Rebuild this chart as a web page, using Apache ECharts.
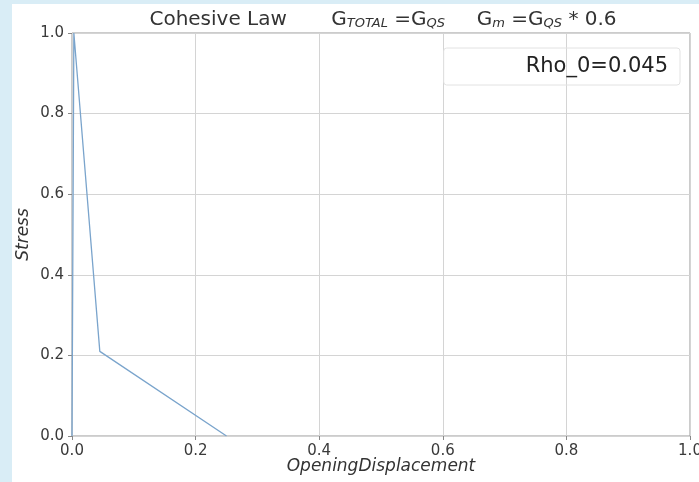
<!DOCTYPE html>
<html lang="en">

<head>
    <meta charset="UTF-8">
    <title>Cohesive Law</title>
    <script src="https://cdn.jsdelivr.net/npm/echarts@6/dist/echarts.min.js"></script>
    <style>
        body { margin: 0; background: #d9edf6; }
        #main { position: absolute; left: 12px; top: 4px; width: 687px; height: 478px; background: #fff; }
    </style>
</head>

<body>
    <div id="main"></div>
    <script>
        // opening displacement / stress points of the cohesive law
        var displacement = [0, 0.003, 0.045, 0.25]
        var stress = [0, 1.0, 0.21, 0]
        var legendName = 'Rho_0=0.045'

        var points = []
        for (var i = 0; i < displacement.length; i++) {
            points.push([displacement[i], stress[i]])
        }

        var font = 'DejaVu Sans'
        var myCharts = echarts.init(document.getElementById('main'))
        var axisCommon = {
            type: 'value',
            min: 0,
            max: 1,
            interval: 0.2,
            axisLine: { show: false },
            axisTick: { show: true, length: 4, lineStyle: { color: '#888' } },
            splitLine: { show: true, lineStyle: { color: '#d4d4d4', width: 1 } },
            axisLabel: {
                color: '#3a3a3a',
                fontFamily: font,
                fontSize: 15,
                formatter: function(v) { return v.toFixed(1) }
            },
            nameTextStyle: { color: '#333', fontFamily: font, fontSize: 17, fontStyle: 'italic' },
            nameLocation: 'middle',
            nameMoveOverlap: false
        }
        var option = {
            animation: false,
            title: {
                text: '{n|Cohesive Law       G}{s|TOTAL}{n| =G}{s|QS}{n|     G}{s|m}{n| =G}{s|QS}{n| * 0.6}',
                left: 366,
                top: -5,
                textAlign: 'center',
                textStyle: {
                    fontWeight: 'normal',
                    rich: {
                        n: { fontFamily: font, fontSize: 20, fontWeight: 'normal', color: '#333', lineHeight: 26, verticalAlign: 'bottom' },
                        s: { fontFamily: font, fontSize: 13, fontWeight: 'normal', color: '#333', fontStyle: 'italic', lineHeight: 13, verticalAlign: 'bottom' }
                    }
                }
            },
            legend: {
                data: [legendName],
                right: 19,
                top: 44,
                icon: 'none',
                itemWidth: 67,
                itemHeight: 14,
                padding: [8, 12, 8, 10],
                borderColor: '#e2e2e2',
                borderWidth: 1,
                borderRadius: 3,
                textStyle: { color: '#222', fontFamily: font, fontSize: 21 }
            },
            grid: {
                left: 60,
                top: 29,
                right: 9,
                bottom: 46,
                outerBoundsMode: 'none',
                containLabel: false,
                show: true,
                borderColor: '#999',
                borderWidth: 1
            },
            xAxis: Object.assign({}, axisCommon, {
                name: 'OpeningDisplacement',
                nameGap: 22,
                axisLabel: Object.assign({}, axisCommon.axisLabel, { margin: 8 })
            }),
            yAxis: Object.assign({}, axisCommon, {
                name: 'Stress',
                nameGap: 40,
                axisLabel: Object.assign({}, axisCommon.axisLabel, { margin: 8 })
            }),
            series: [{
                name: legendName,
                type: 'line',
                data: points,
                symbol: 'none',
                lineStyle: { color: '#7aa4cc', width: 1.3 }
            }]
        }
        myCharts.setOption(option)
    </script>
</body>

</html>
